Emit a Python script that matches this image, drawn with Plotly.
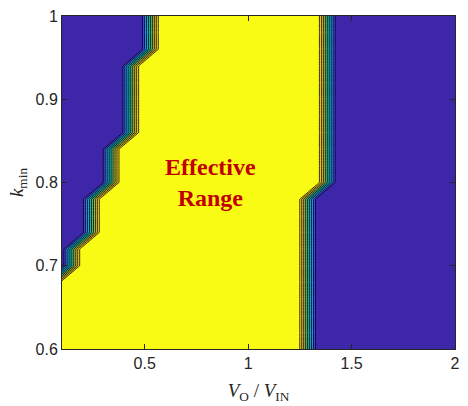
import numpy as np
import plotly.graph_objects as go

# Sampling grid of the operating map
vo_ratio = np.linspace(0.1, 2.0, 21)      # V_O / V_IN
k_min = np.linspace(0.6, 1.0, 21)         # k_min

# Limits of the effective V_O/V_IN range for each k_min row (bottom to top)
lower_limit = [0.1, 0.1, 0.1, 0.1, 0.1,
               0.195, 0.195,
               0.29, 0.29, 0.29,
               0.385, 0.385, 0.385,
               0.48, 0.48, 0.48, 0.48, 0.48,
               0.575, 0.575, 0.575]
upper_limit = [1.24] * 10 + [1.335] * 11

lo = np.array(lower_limit)[:, None]
hi = np.array(upper_limit)[:, None]
effective = ((vo_ratio[None, :] >= lo - 1e-9) & (vo_ratio[None, :] <= hi + 1e-9)).astype(float)

parula = [
    [0.00, "#3e26a8"],
    [0.11, "#4746eb"],
    [0.22, "#2d8cf6"],
    [0.33, "#1ba7de"],
    [0.44, "#0fb9b5"],
    [0.55, "#46c17e"],
    [0.66, "#a9c03e"],
    [0.77, "#e5b834"],
    [0.88, "#f9d52a"],
    [1.00, "#f9fb15"],
]

fig = go.Figure(go.Contour(
    x=vo_ratio, y=k_min, z=effective,
    colorscale=parula, showscale=False,
    contours=dict(start=0.1, end=0.9, size=0.1, coloring="fill", showlines=True),
    line=dict(color="black", width=0.8, smoothing=0),
    hoverinfo="skip",
))

fig.add_annotation(
    x=0.82, y=0.80, xref="x", yref="y",
    text="<b>Effective<br>Range</b>", showarrow=False,
    font=dict(family="Liberation Serif", size=24, color="#c00000"),
)

axis_common = dict(
    showline=True, linecolor="#262626", linewidth=1, mirror="allticks",
    ticks="inside", ticklen=5, tickcolor="#262626", showgrid=False, zeroline=False,
    tickfont=dict(family="Liberation Sans", size=16, color="#262626"),
)

fig.update_layout(
    width=468, height=406,
    margin=dict(l=62, r=8, t=10, b=56),
    paper_bgcolor="white", plot_bgcolor="white",
    showlegend=False,
    xaxis=dict(range=[0.1, 2.0], tickvals=[0.5, 1, 1.5, 2], ticktext=["0.5", "1", "1.5", "2"],
               title=dict(text="<i>V</i><sub>O</sub> / <i>V</i><sub>IN</sub>", standoff=12,
                          font=dict(family="Liberation Serif", size=19, color="#262626")),
               **axis_common),
    yaxis=dict(range=[0.6, 1.0], tickvals=[0.6, 0.7, 0.8, 0.9, 1.0],
               ticktext=["0.6", "0.7", "0.8", "0.9", "1"],
               title=dict(text="<i>k</i><sub>min</sub>", standoff=6,
                          font=dict(family="Liberation Serif", size=19, color="#262626")),
               **axis_common),
)

fig.write_html("out.html")
